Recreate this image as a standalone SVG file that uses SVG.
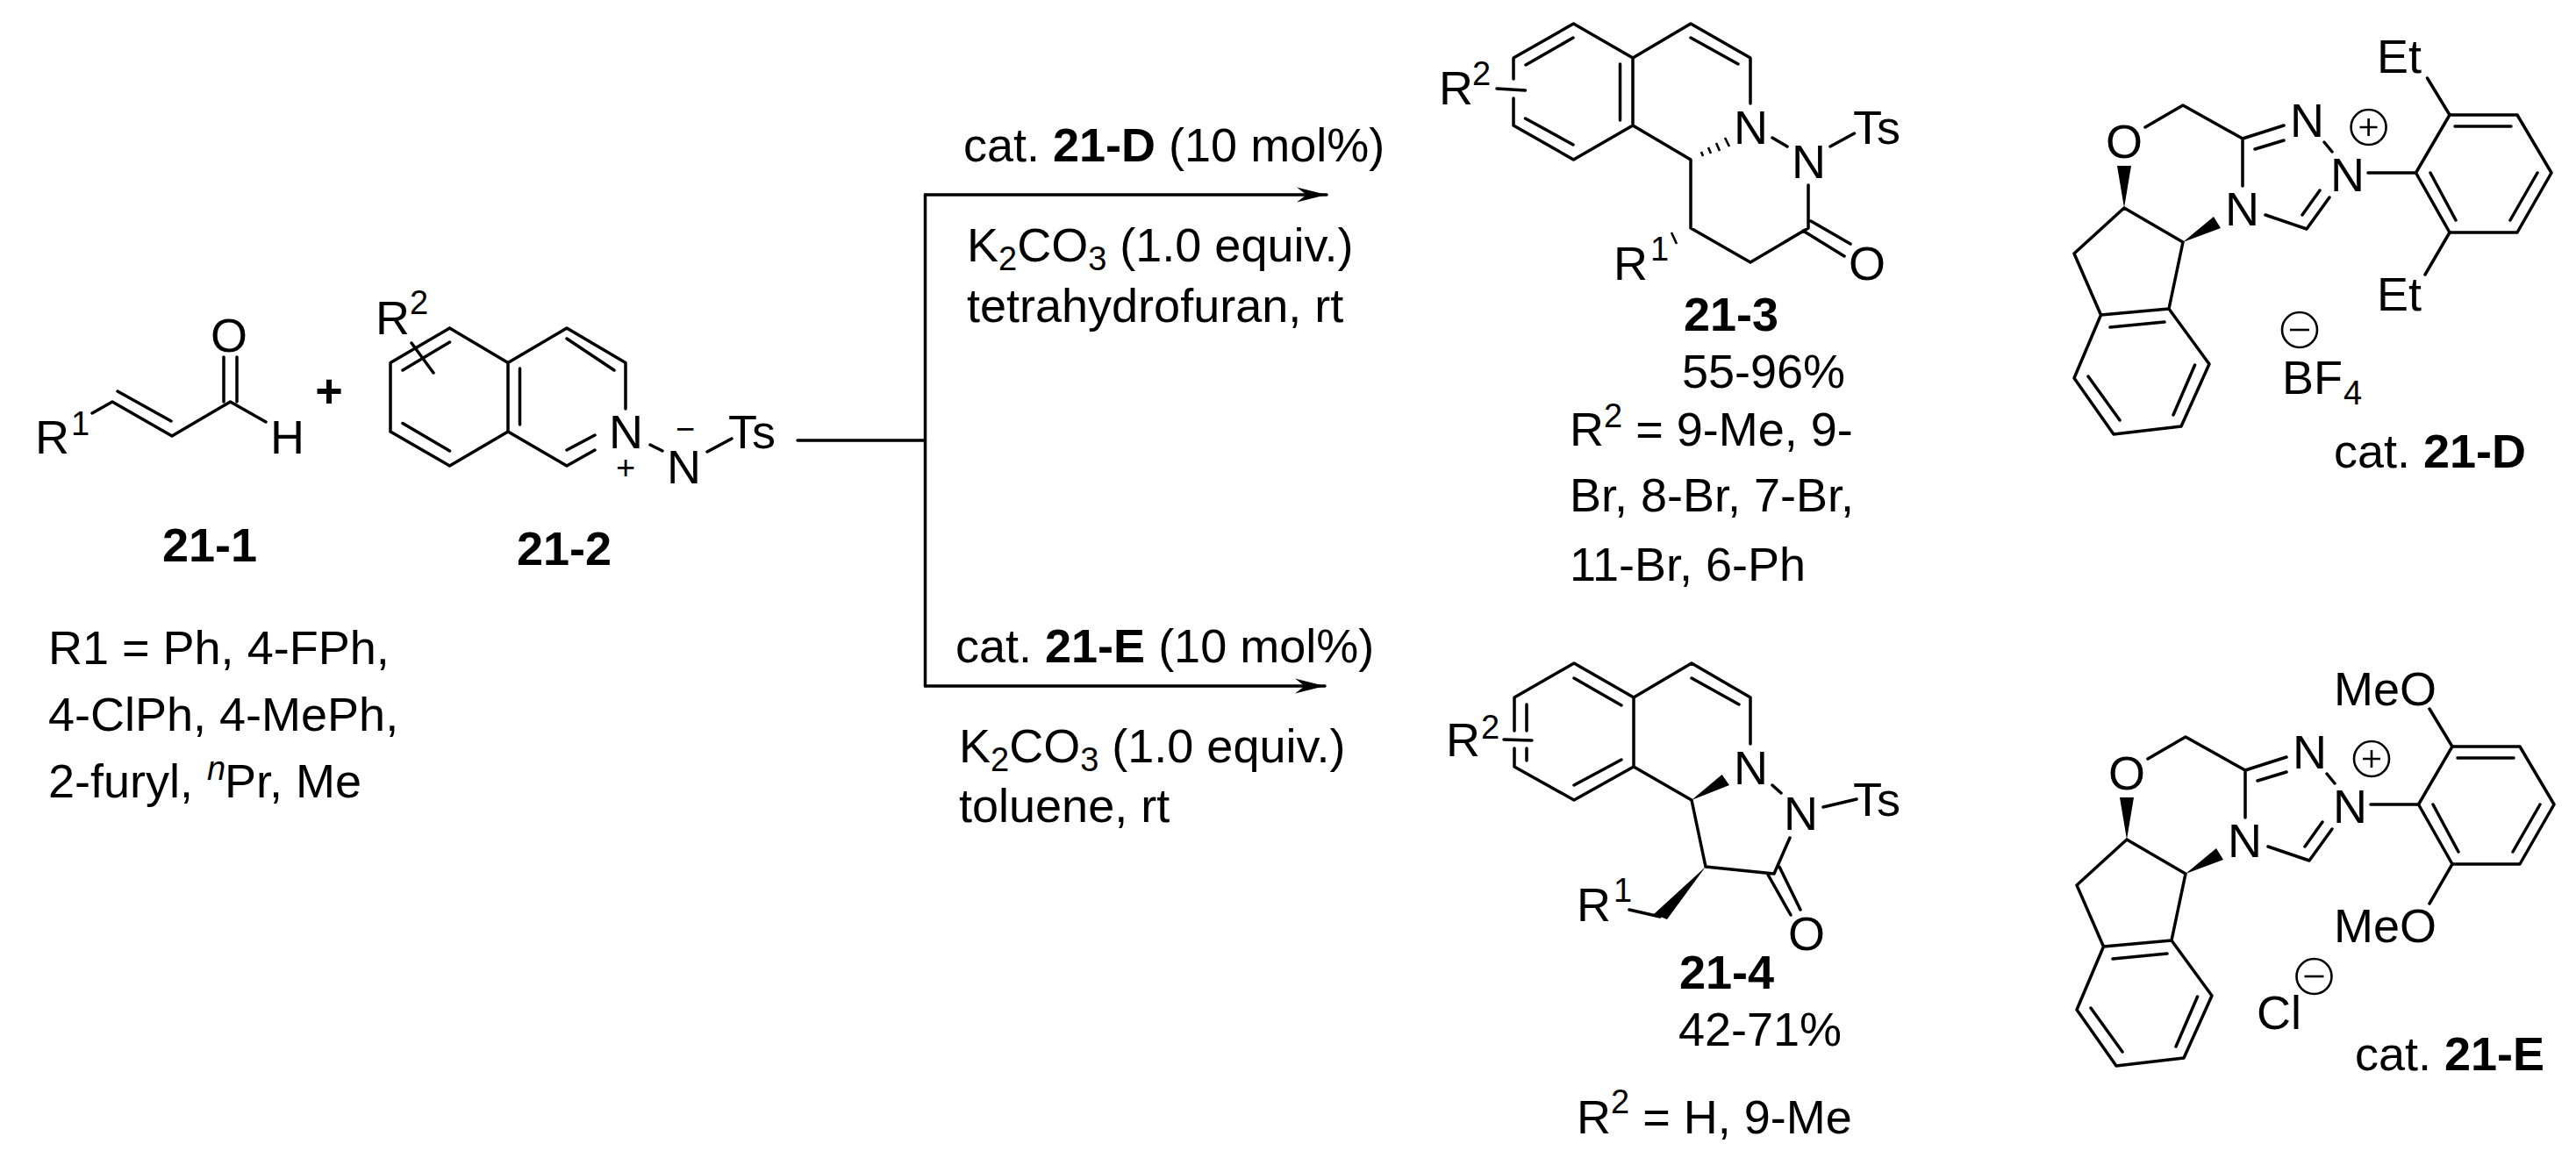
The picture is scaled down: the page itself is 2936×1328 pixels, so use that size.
<svg xmlns="http://www.w3.org/2000/svg" xmlns:xlink="http://www.w3.org/1999/xlink" width="2936" height="1328" viewBox="0 0 2936 1328">
<style>
text{font-family:"Liberation Sans",Arial,sans-serif;font-size:54px;fill:#000}
.b{font-weight:700}
.s{font-size:38px}
.bond{fill:none;stroke:#000;stroke-width:3.5;stroke-linecap:round;stroke-linejoin:round}
.thin{fill:none;stroke:#000;stroke-width:2.6}
</style>
<defs>
<marker id="head" markerUnits="userSpaceOnUse" markerWidth="36" markerHeight="20" refX="34" refY="10" orient="auto"><path d="M0 1.5L34 10L0 18.5L11 10Z" fill="#000"/></marker>
<g id="core">
<path class="bond" d="M2445 145L2488 120L2556 158L2603 143M2570 170L2603 160M2556 158V212M2649 162L2658 173M2699 197H2753.5M2655 225L2629 261L2582 245M2644 217L2624 245"/>
<path class="bond" d="M2753.5 197L2792 131H2869L2908 197L2869 265H2792ZM2798 144H2862M2892 197L2861 251M2799 251L2770 197"/>
<path class="bond" d="M2421 237L2488 276M2421 237L2364 289L2394.5 359L2472 352L2488 276M2405 373L2467 367M2472 352L2518 415L2486 486L2409 495L2364 431L2394.5 359M2501.6 416L2477 473M2416 479L2380 429"/>
<path d="M2421 237L2413 189H2429ZM2488 276L2523 247L2531 260Z" fill="#000"/>
</g>
</defs>
<g id="connectors">
<path class="bond" d="M909 502H1054.5"/>
<path class="bond" d="M1054.5 222V782"/>
<path class="bond" d="M1054.5 222H1512" marker-end="url(#head)"/>
<path class="bond" d="M1054.5 782H1510" marker-end="url(#head)"/>
</g>
<g id="n21-1">
<path class="bond" d="M105 471L128 458L196 497L262.5 458L303 481M134 446L195 480M255 458V407M270 458V407"/>
<text x="40" y="517">R</text><text class="s" x="81" y="496">1</text>
<text x="240" y="401">O</text><text x="308" y="517">H</text>
<text class="b" x="185" y="640">21-1</text>
</g>
<text id="plus" class="b" x="375" y="464" text-anchor="middle">+</text>
<g id="n21-2">
<path class="bond" d="M512.5 374L445 413.5V492L512.5 531L579 492V413.5L512.5 374M579 413.5L646 374L713 413.5V466M579 492L646 531L678 513M646 513L678 496M646 386L700 422M592.5 420V484M459 482.5L512.5 514M459 422L512.5 390M469 391L494 425M741 507L755 514M806 515L834 500"/>
<text x="428" y="381">R</text><text class="s" x="467" y="358">2</text>
<text x="694" y="511">N</text><text class="s" x="713" y="546" text-anchor="middle">+</text>
<text x="760" y="551">N</text><text class="s" x="781" y="502" text-anchor="middle">−</text>
<text x="830" y="511">Ts</text>
<text class="b" x="589" y="644">21-2</text>
</g>
<g id="subs-21-1">
<text x="55" y="757">R1 = Ph, 4-FPh,</text>
<text x="55" y="833">4-ClPh, 4-MePh,</text>
<text x="55" y="909">2-furyl, <tspan class="s" font-style="italic" x="236" dy="-20">n</tspan><tspan x="256" dy="20">Pr, Me</tspan></text>
</g>
<g id="cond-d">
<text x="1098" y="184">cat. <tspan class="b">21-D</tspan> (10 mol%)</text>
<text x="1102" y="298">K<tspan class="s" dy="10">2</tspan><tspan dy="-10">CO</tspan><tspan class="s" dy="10">3</tspan><tspan dy="-10"> (1.0 equiv.)</tspan></text>
<text x="1102" y="367">tetrahydrofuran, rt</text>
</g>
<g id="cond-e">
<text x="1089" y="755">cat. <tspan class="b">21-E</tspan> (10 mol%)</text>
<text x="1093" y="869">K<tspan class="s" dy="10">2</tspan><tspan dy="-10">CO</tspan><tspan class="s" dy="10">3</tspan><tspan dy="-10"> (1.0 equiv.)</tspan></text>
<text x="1093" y="937">toluene, rt</text>
</g>
<g id="n21-3">
<path class="bond" d="M1725 90V66L1793.4 27L1861 66V143L1793.4 182L1725 143V112M1861 66L1927 27L1995 66V118M1861 143L1927 182V260L1995 299L2061 260V211M2055 263L2102 292M2064 252L2109 278M2020 157L2037 167M2086 167L2113.5 152M1793 43L1739 74M1738.5 135L1793 165M1846.5 73V137M1927 43L1981 73M1706 101L1738.5 103"/>
<path class="thin" d="M1939 173L1941 178M1947 168L1950 175M1956 163L1960 172M1966 157L1971 167M1905 265L1911 278"/>
<text x="1976" y="164">N</text><text x="2042" y="203">N</text><text x="2112" y="164">Ts</text>
<text x="1640" y="119">R</text><text class="s" x="1678" y="97">2</text>
<text x="1839" y="319">R</text><text class="s" x="1881" y="297">1</text>
<text x="2107" y="319">O</text>
<text class="b" x="1919" y="377">21-3</text>
<text x="1917" y="442">55-96%</text>
<text x="1789" y="508">R<tspan class="s" dy="-21">2</tspan><tspan dy="21"> = 9-Me, 9-</tspan></text>
<text x="1789" y="583">Br, 8-Br, 7-Br,</text>
<text x="1789" y="662">11-Br, 6-Ph</text>
</g>
<g id="n21-4">
<path class="bond" d="M1726 833V795L1794 756L1862 795V874L1794 912L1726 874V853M1862 795L1928 756L1995 795V848M1862 874L1928 912L1944 988L2022 996L2040 955M2015 997L2041 1043M2028 988L2052 1037M2020 895L2030 904M2078 920L2116 911M1794 773L1848 804M1740 803V833M1740 853V867M1794 895L1848 866M1928 773L1982 803M1714 843L1746 844M1857 1037L1892 1045"/>
<path d="M1928 912L1971 895L1962.6 883ZM1944 988L1885 1042L1900 1048Z" fill="#000"/>
<text x="1976" y="894">N</text><text x="2033" y="946">N</text><text x="2112" y="930">Ts</text>
<text x="1648" y="862">R</text><text class="s" x="1688" y="842">2</text>
<text x="1797" y="1050">R</text><text class="s" x="1839" y="1028">1</text>
<text x="2038" y="1083">O</text>
<text class="b" x="1914" y="1127">21-4</text>
<text x="1913" y="1192">42-71%</text>
<text x="1797" y="1292">R<tspan class="s" dy="-23">2</tspan><tspan dy="23"> = H, 9-Me</tspan></text>
</g>
<g id="cat-21-D">
<use xlink:href="#core" href="#core"/>
<path class="bond" d="M2792 131L2766.5 89M2792 265L2764 313"/>
<text x="2400" y="179.5">O</text><text x="2610" y="156">N</text><text x="2656" y="218">N</text><text x="2536" y="257">N</text>
<text x="2709" y="83">Et</text><text x="2709" y="353.5">Et</text>
<circle class="thin" cx="2699.6" cy="145" r="20"/><path class="thin" d="M2689.6 145H2709.6M2699.6 135V155"/>
<circle class="thin" cx="2621" cy="376" r="20"/><path class="thin" d="M2610 376H2632"/>
<text x="2601" y="449">BF</text><text class="s" x="2671" y="461">4</text>
<text x="2660" y="533">cat. <tspan class="b">21-D</tspan></text>
</g>
<g id="cat-21-E">
<use xlink:href="#core" href="#core" transform="translate(3 720)"/>
<path class="bond" d="M2795 851L2769 808M2795 985L2769 1030"/>
<text x="2403" y="899.5">O</text><text x="2613" y="876">N</text><text x="2659" y="938">N</text><text x="2539" y="977">N</text>
<text x="2660" y="804">MeO</text><text x="2660" y="1074">MeO</text>
<circle class="thin" cx="2703" cy="865" r="20"/><path class="thin" d="M2693 865H2713M2703 855V875"/>
<circle class="thin" cx="2637.5" cy="1113" r="20"/><path class="thin" d="M2626.5 1113H2648.5"/>
<text x="2572" y="1173">Cl</text>
<text x="2684" y="1220">cat. <tspan class="b">21-E</tspan></text>
</g>
</svg>
